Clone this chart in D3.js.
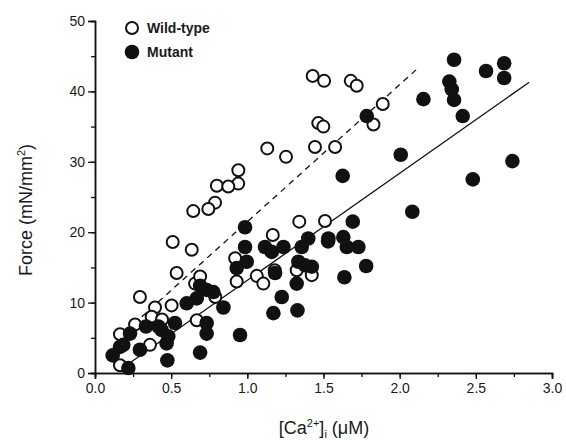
<!DOCTYPE html>
<html>
<head>
<meta charset="utf-8">
<script src="https://cdn.jsdelivr.net/npm/d3@7"></script>
<style>
  body { margin: 0; background: #fff; }
  text { font-family: "Liberation Sans", Arial, sans-serif; fill: #1a1a1a; }
</style>
</head>
<body>
<div id="chart"></div>
<script>
var width = 566, height = 440;

// wild-type points [Ca2+]i, force
var wildX = [1.429,1.504,1.679,1.718,1.889,1.828,1.466,1.499,1.444,1.576,1.131,1.254,0.941,0.94,0.80,0.875,0.788,0.744,0.645,1.341,1.51,0.51,0.635,1.167,0.536,0.92,0.93,1.062,1.105,1.18,1.324,1.423,0.657,0.69,0.295,0.503,0.394,0.372,0.79,0.668,0.263,0.164,0.361,0.164,0.44];
var wildY = [42.2,41.5,41.5,40.8,38.2,35.3,35.5,35.0,32.1,32.1,31.9,30.7,28.8,26.9,26.6,26.5,24.2,23.3,23.0,21.5,21.6,18.6,17.5,19.6,14.2,16.3,13.0,13.8,12.7,14.6,14.6,13.9,12.7,13.7,10.8,9.6,9.3,8.0,10.8,7.5,6.9,5.5,4.0,1.1,7.6];

// mutant points
var mutX = [2.357,2.686,2.567,2.686,2.326,2.342,2.357,2.156,2.414,1.784,2.74,2.007,2.48,1.626,2.083,0.985,1.692,0.985,1.116,1.16,1.237,1.357,1.40,1.532,1.63,1.653,1.729,1.78,1.637,0.996,0.93,1.335,1.379,1.423,1.182,1.324,1.226,1.171,1.329,0.952,0.69,0.475,0.219,0.116,0.186,0.23,0.295,0.335,0.416,0.525,0.481,0.47,0.733,0.733,0.602,0.668,0.69,0.733,0.777,0.843,1.53,0.164,0.438];
var mutY = [44.5,44.0,42.9,41.9,41.4,40.3,38.8,38.9,36.5,36.5,30.1,31.0,27.5,28.0,22.9,20.7,21.5,17.9,17.9,17.2,17.9,17.9,19.1,19.1,19.3,17.9,17.9,15.2,13.6,15.8,14.9,15.8,15.3,15.1,14.2,12.7,10.8,8.5,8.9,5.4,2.9,1.8,0.7,2.5,4.0,5.6,3.3,6.6,6.6,7.1,5.2,4.2,7.1,5.6,9.9,10.6,12.4,11.8,11.5,9.3,18.7,3.7,6.1];

// regression lines (endpoints)
var wildFitX = [0.2, 2.12], wildFitY = [5.9, 43.3];
var mutFitX = [0.2, 2.85], mutFitY = [1.0, 41.3];

var xTicks = [0, 0.5, 1.0, 1.5, 2.0, 2.5, 3.0];
var yTicks = [0, 10, 20, 30, 40, 50];

var wild = wildX.map((d, i) => ({x: d, y: wildY[i]}));
var mutant = mutX.map((d, i) => ({x: d, y: mutY[i]}));

var x = d3.scaleLinear().domain([0, 3]).range([95, 552]);
var y = d3.scaleLinear().domain([0, 50]).range([373, 21]);

var svg = d3.select("#chart").append("svg")
    .attr("width", width)
    .attr("height", height);

// axes
var xAxisMinor = d3.axisBottom(x).tickValues(d3.range(0, 3.01, 0.25)).tickSize(4).tickFormat("");
var xAxis = d3.axisBottom(x).tickValues(xTicks).tickSize(6).tickPadding(4).tickFormat(d3.format(".1f"));
var yAxisMinor = d3.axisLeft(y).tickValues(d3.range(0, 50.1, 5)).tickSize(4).tickFormat("");
var yAxis = d3.axisLeft(y).tickValues(yTicks).tickSize(7).tickPadding(3);

[xAxisMinor, xAxis].forEach(a => {
  svg.append("g").attr("class", "x-axis")
    .attr("transform", "translate(0," + y(0) + ")")
    .call(a);
});
[yAxisMinor, yAxis].forEach(a => {
  svg.append("g").attr("class", "y-axis")
    .attr("transform", "translate(" + x(0) + ",0)")
    .call(a);
});

svg.selectAll(".x-axis path, .y-axis path").attr("stroke", "#111").attr("stroke-width", 1.5);
svg.selectAll(".x-axis line, .y-axis line").attr("stroke", "#111").attr("stroke-width", 1.3);
svg.selectAll(".x-axis text, .y-axis text")
  .style("font-size", "14px")
  .style("font-family", "'Liberation Sans', Arial, sans-serif")
  .attr("fill", "#1a1a1a");

// fit lines
var line = d3.line().x(d => x(d[0])).y(d => y(d[1]));

svg.append("path")
  .attr("d", line(wildFitX.map((d, i) => [d, wildFitY[i]])))
  .attr("fill", "none")
  .attr("stroke", "#111")
  .attr("stroke-width", 1.3)
  .attr("stroke-dasharray", "6,5");

svg.append("path")
  .attr("d", line(mutFitX.map((d, i) => [d, mutFitY[i]])))
  .attr("fill", "none")
  .attr("stroke", "#111")
  .attr("stroke-width", 1.3);

// points
svg.selectAll("circle.wild")
  .data(wild).enter()
  .append("circle")
    .attr("class", "wild")
    .attr("cx", d => x(d.x))
    .attr("cy", d => y(d.y))
    .attr("r", 6)
    .attr("fill", "#fff")
    .attr("stroke", "#111")
    .attr("stroke-width", 2);

svg.selectAll("circle.mutant")
  .data(mutant).enter()
  .append("circle")
    .attr("class", "mutant")
    .attr("cx", d => x(d.x))
    .attr("cy", d => y(d.y))
    .attr("r", 7.3)
    .attr("fill", "#111");

// legend
var legend = svg.append("g");
legend.append("circle").attr("cx", 132).attr("cy", 28).attr("r", 6)
  .attr("fill", "#fff").attr("stroke", "#111").attr("stroke-width", 2);
legend.append("circle").attr("cx", 132).attr("cy", 52).attr("r", 7.3).attr("fill", "#111");
legend.append("text").attr("x", 147).attr("y", 33)
  .style("font-size", "14px").style("font-weight", "bold").text("Wild-type");
legend.append("text").attr("x", 147).attr("y", 57)
  .style("font-size", "14px").style("font-weight", "bold").text("Mutant");

// axis titles
var yt = svg.append("text")
  .attr("transform", "translate(32,210) rotate(-90)")
  .attr("text-anchor", "middle")
  .style("font-size", "18px");
yt.append("tspan").text("Force (mN/mm");
yt.append("tspan").attr("dy", -7).style("font-size", "11px").text("2");
yt.append("tspan").attr("dy", 7).text(")");

var xt = svg.append("text")
  .attr("x", 324).attr("y", 434)
  .attr("text-anchor", "middle")
  .style("font-size", "18px");
xt.append("tspan").text("[Ca");
xt.append("tspan").attr("dy", -7).style("font-size", "11px").text("2+");
xt.append("tspan").attr("dy", 7).text("]");
xt.append("tspan").attr("dy", 4).style("font-size", "11px").text("i");
xt.append("tspan").attr("dy", -4).text(" (\u03bcM)");
</script>
</body>
</html>
